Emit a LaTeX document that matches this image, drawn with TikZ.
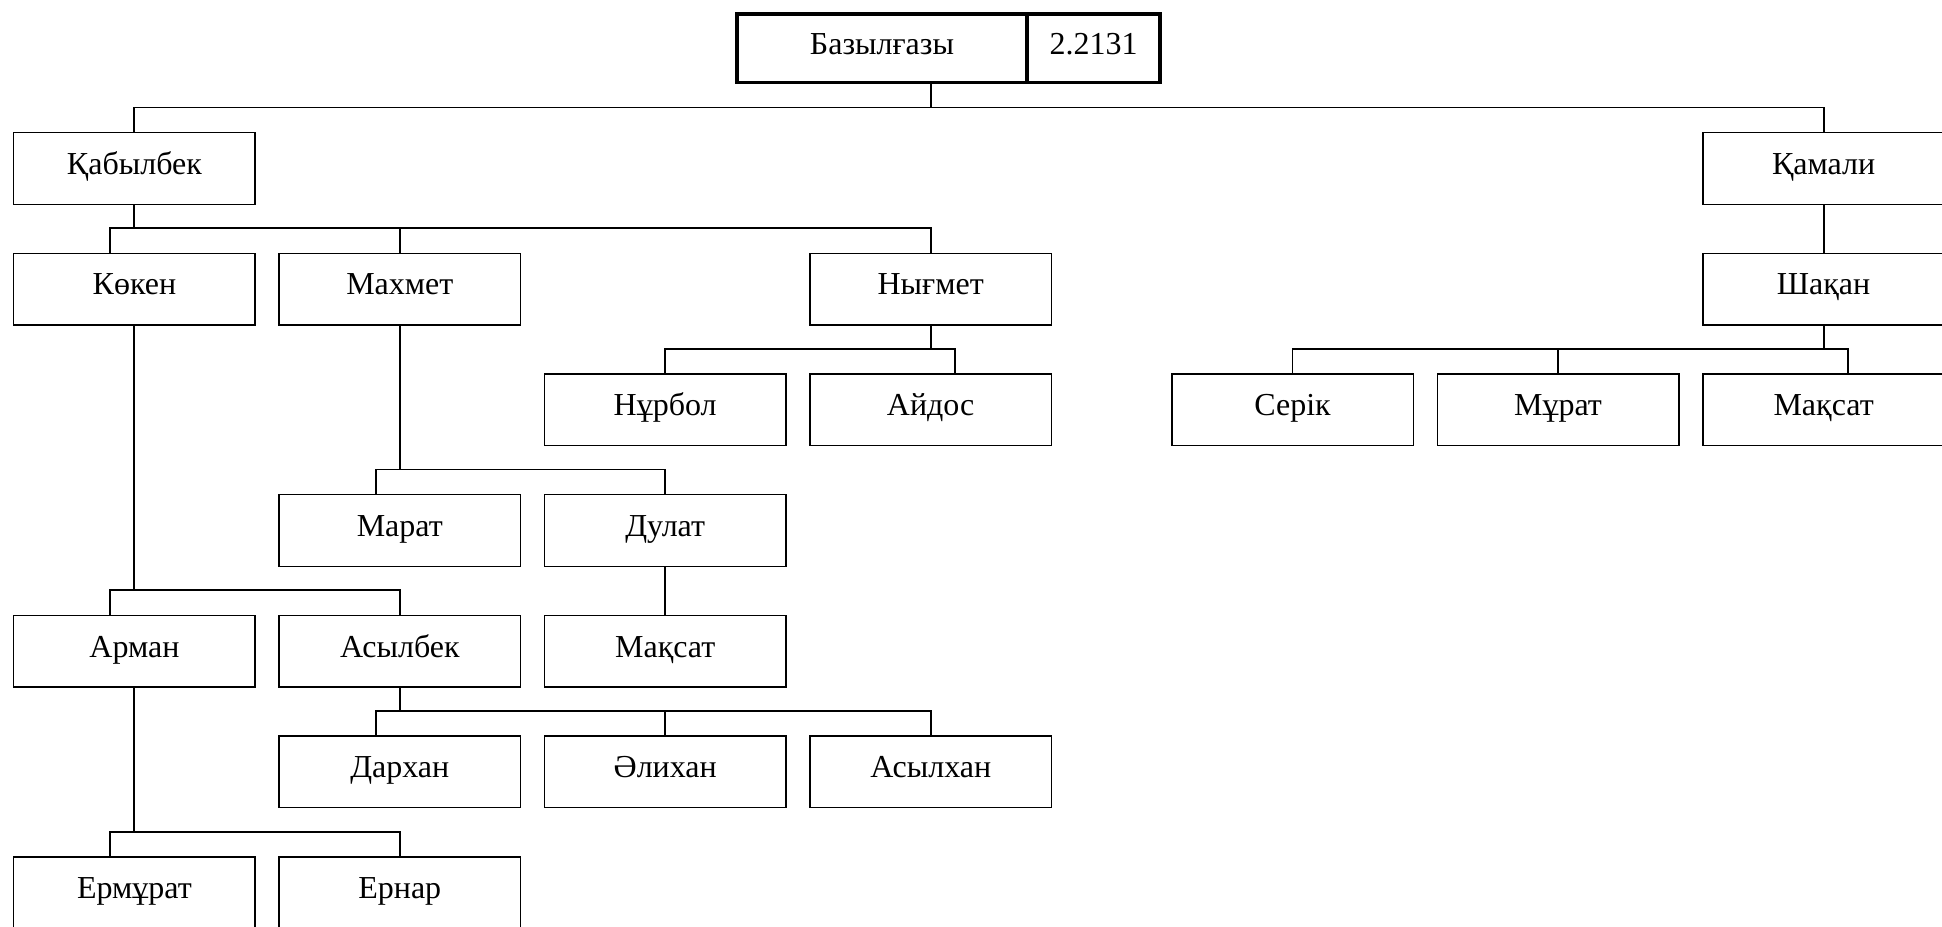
\documentclass[tikz,border=0pt]{standalone}
\usepackage{fontspec}
\setmainfont{Liberation Serif}
\usetikzlibrary{calc}
\tikzset{
  person/.style={draw=black, line width=0.75pt, minimum width=120.75pt, minimum height=35.8pt, inner sep=0pt, text height=11pt, text depth=5.2pt, font=\fontsize{16}{19}\selectfont, fill=white},
  rootbox/.style={draw=black, line width=1.8pt, minimum height=34.2pt, inner sep=0pt, text height=11pt, text depth=5.2pt, font=\fontsize{16}{19}\selectfont},
  link/.style={draw=black, line width=0.95pt}
}
\newcommand\famlink[3]{\draw[link] (#1.south) |- ($(#2.north)+(#3,-24.5)$) -- ($(#2.north)+(#3,0)$);}
\begin{document}
\begin{tikzpicture}[x=0.5pt,y=-0.5pt]
\useasboundingbox (0,0) rectangle (1942,926);
% root
\node[rootbox, minimum width=145pt] (bz) at (882,48.3) {Базылғазы};
\node[rootbox, minimum width=66.5pt] (num) at (1093.5,48.3) {2.2131};
% row 0
\node[person] (kab) at (134.4,168.5) {Қабылбек};
\node[person] (kam) at (1823.6,168.5) {Қамали};
% row 1
\node[person] (kok) at (134.4,289.1) {Көкен};
\node[person] (mah) at (399.8,289.1) {Махмет};
\node[person] (nyg) at (930.7,289.1) {Нығмет};
\node[person] (sha) at (1823.6,289.1) {Шақан};
% row 2
\node[person] (nur) at (665.2,409.8) {Нұрбол};
\node[person] (aid) at (930.7,409.8) {Айдос};
\node[person] (ser) at (1292.5,409.8) {Серік};
\node[person] (mur) at (1558,409.8) {Мұрат};
\node[person] (maqb) at (1823.6,409.8) {Мақсат};
% row 3
\node[person] (mar) at (399.8,530.5) {Марат};
\node[person] (dul) at (665.2,530.5) {Дулат};
% row 4
\node[person] (arm) at (134.4,651.2) {Арман};
\node[person] (asy) at (399.8,651.2) {Асылбек};
\node[person] (maqa) at (665.2,651.2) {Мақсат};
% row 5
\node[person] (dar) at (399.8,771.8) {Дархан};
\node[person] (ali) at (665.2,771.8) {Әлихан};
\node[person] (asx) at (930.7,771.8) {Асылхан};
% row 6
\node[person] (erm) at (134.4,892.6) {Ермұрат};
\node[person] (ern) at (399.8,892.6) {Ернар};
% root links
\coordinate (rootdrop) at (bz.south -| nyg.north);
\draw[link] (rootdrop) |- ($(kab.north)+(0,-24.5)$) -- (kab.north);
\draw[link] (rootdrop) |- ($(kam.north)+(0,-24.5)$) -- (kam.north);
% family links
\famlink{kab}{kok}{-24}
\famlink{kab}{mah}{0}
\famlink{kab}{nyg}{0}
\famlink{kok}{arm}{-24}
\famlink{kok}{asy}{0}
\famlink{mah}{mar}{-24}
\famlink{mah}{dul}{0}
\famlink{nyg}{nur}{0}
\famlink{nyg}{aid}{24}
\famlink{dul}{maqa}{0}
\famlink{asy}{dar}{-24}
\famlink{asy}{ali}{0}
\famlink{asy}{asx}{0}
\famlink{arm}{erm}{-24}
\famlink{arm}{ern}{0}
\famlink{kam}{sha}{0}
\famlink{sha}{ser}{0}
\famlink{sha}{mur}{0}
\famlink{sha}{maqb}{24}
\end{tikzpicture}
\end{document}
